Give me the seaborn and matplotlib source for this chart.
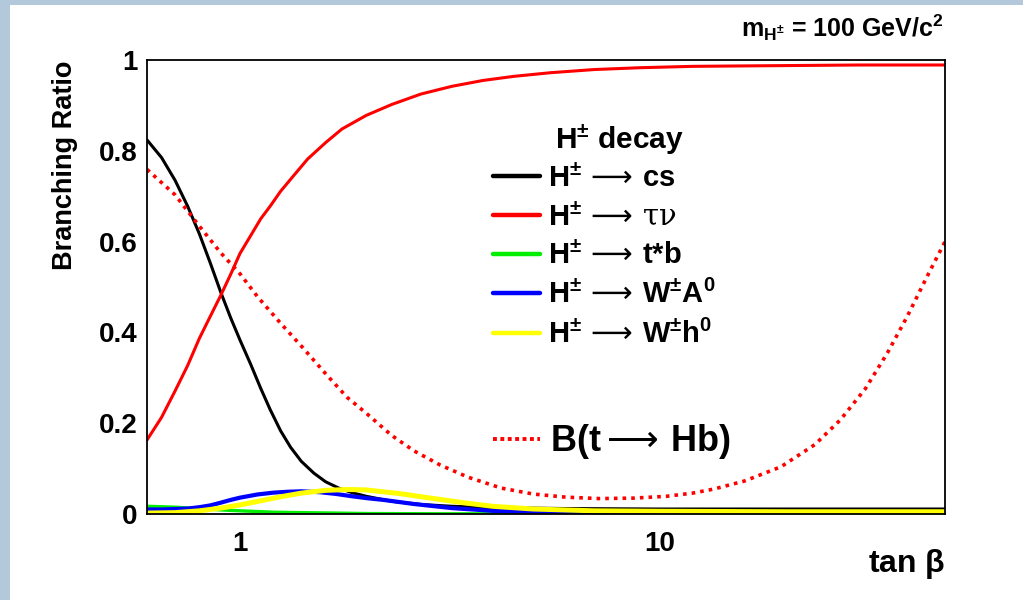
import matplotlib
matplotlib.use("Agg")
import numpy as np
import pandas as pd
import seaborn as sns
import matplotlib.pyplot as plt
from matplotlib.lines import Line2D
from matplotlib.patches import Rectangle
from matplotlib.ticker import FixedLocator, FixedFormatter, NullFormatter

# ---------------- data ----------------
tanb_cs = [0.6, 0.65, 0.7, 0.75, 0.8, 0.85, 0.9, 0.95, 1.0, 1.06, 1.12, 1.18, 1.25, 1.32,
           1.4, 1.5, 1.6, 1.72, 1.85, 2.0, 2.3, 2.7, 3.2, 4.0, 6.0, 10, 20, 48]
br_cs = [0.824, 0.785, 0.735, 0.678, 0.617, 0.552, 0.488, 0.432, 0.383, 0.330, 0.277, 0.230,
         0.183, 0.147, 0.116, 0.090, 0.071, 0.057, 0.047, 0.039, 0.028, 0.021, 0.017, 0.014,
         0.012, 0.011, 0.011, 0.011]

tanb_taunu = [0.6, 0.65, 0.7, 0.75, 0.8, 0.85, 0.9, 0.95, 1.0, 1.06, 1.12, 1.18, 1.25, 1.35,
              1.45, 1.6, 1.75, 2.0, 2.3, 2.7, 3.2, 3.8, 4.5, 5.5, 7, 9, 12, 16, 22, 30, 40, 48]
br_taunu = [0.163, 0.213, 0.271, 0.327, 0.387, 0.436, 0.482, 0.528, 0.574, 0.613, 0.650, 0.678,
            0.711, 0.748, 0.782, 0.818, 0.848, 0.878, 0.902, 0.925, 0.942, 0.955, 0.964, 0.972,
            0.979, 0.983, 0.986, 0.987, 0.988, 0.989, 0.989, 0.989]

tanb_tb = [0.6, 0.7, 0.8, 0.9, 1.0, 1.2, 1.4, 1.7, 2.0, 3.0, 48]
br_tb = [0.017, 0.015, 0.012, 0.009, 0.007, 0.004, 0.003, 0.002, 0.001, 0.0005, 0.0]

tanb_wa = [0.6, 0.65, 0.7, 0.75, 0.8, 0.85, 0.9, 0.95, 1.0, 1.1, 1.2, 1.3, 1.4, 1.55, 1.7,
           1.85, 2.0, 2.2, 2.6, 3.2, 4.0, 5.0, 7.0, 10, 20, 48]
br_wa = [0.010, 0.010, 0.011, 0.012, 0.015, 0.019, 0.025, 0.031, 0.036, 0.043, 0.047, 0.049,
         0.050, 0.048, 0.044, 0.039, 0.035, 0.031, 0.022, 0.013, 0.007, 0.004, 0.002, 0.002,
         0.001, 0.001]

tanb_wh = [0.6, 0.7, 0.8, 0.9, 1.0, 1.12, 1.25, 1.4, 1.6, 1.8, 2.0, 2.4, 2.8, 3.4, 4.0, 5.0,
           7.0, 10, 20, 48]
br_wh = [0.002, 0.003, 0.007, 0.013, 0.020, 0.029, 0.038, 0.046, 0.052, 0.054, 0.053, 0.045,
         0.036, 0.025, 0.017, 0.011, 0.007, 0.006, 0.005, 0.005]

tanb_tHb = [0.6, 0.7, 0.8, 0.9, 1.0, 1.1, 1.25, 1.4, 1.6, 1.8, 2.0, 2.3, 2.6, 3.0, 3.5, 4.2,
            5.0, 6.0, 7.2, 8.7, 10.4, 12, 13.5, 16, 19.5, 23.5, 27, 31, 35, 39, 43.5, 48]
br_tHb = [0.759, 0.703, 0.634, 0.575, 0.529, 0.479, 0.420, 0.370, 0.309, 0.257, 0.222, 0.173,
          0.139, 0.108, 0.081, 0.057, 0.044, 0.037, 0.034, 0.035, 0.039, 0.046, 0.055, 0.073,
          0.104, 0.153, 0.207, 0.276, 0.355, 0.435, 0.523, 0.600]

ARROW = r"$\,\mathsf{\longrightarrow}\,$"
channels = ["cs", "taunu", "tb", "WA", "Wh"]
channel_labels = [r"H$^{\pm}$" + ARROW + "cs",
                  r"H$^{\pm}$" + ARROW + r"$\mathtt{\tau\nu}$",
                  r"H$^{\pm}$" + ARROW + "t*b",
                  r"H$^{\pm}$" + ARROW + r"W$^{\pm}$A$^{0}$",
                  r"H$^{\pm}$" + ARROW + r"W$^{\pm}$h$^{0}$"]
channel_colors = ["#000000", "#ff0000", "#00ee00", "#0000ff", "#ffff00"]
channel_widths = [2.2, 2.2, 2.4, 3.0, 3.6]
tHb_label = r"B(t$\mathsf{\longrightarrow}\,$Hb)"

y_ticks = [0, 0.2, 0.4, 0.6, 0.8, 1.0]
y_ticklabels = ["0", "0.2", "0.4", "0.6", "0.8", "1"]
x_major = [1, 10]
x_major_labels = ["1", "10"]
x_minor = [0.7, 0.8, 0.9, 2, 3, 4, 5, 6, 7, 8, 9, 20, 30, 40]

# ---------------- style ----------------
sns.set_theme(style="white")
plt.rcParams["font.family"] = ["Liberation Sans", "DejaVu Sans"]
plt.rcParams["font.weight"] = "bold"
plt.rcParams["text.color"] = "black"
plt.rcParams["axes.labelcolor"] = "black"
plt.rcParams["xtick.color"] = "black"
plt.rcParams["ytick.color"] = "black"
plt.rcParams["mathtext.fontset"] = "custom"
plt.rcParams["mathtext.rm"] = "Liberation Sans:bold"
plt.rcParams["mathtext.it"] = "Liberation Sans:bold"
plt.rcParams["mathtext.bf"] = "Liberation Sans:bold"
plt.rcParams["mathtext.sf"] = "DejaVu Sans:normal"
plt.rcParams["mathtext.tt"] = "DejaVu Serif:normal"
plt.rcParams["mathtext.fallback"] = "stix"

FAM = ["Liberation Sans", "DejaVu Sans"]

fig = plt.figure(figsize=(10.23, 6.0), dpi=100)
fig.patch.set_facecolor("white")
fig.patches.append(Rectangle((0, 0), 10 / 1023, 1, transform=fig.transFigure,
                             facecolor="#b4c8dc", edgecolor="none", zorder=0))
fig.patches.append(Rectangle((0, 1 - 5 / 600), 1, 5 / 600, transform=fig.transFigure,
                             facecolor="#b4c8dc", edgecolor="none", zorder=0))

ax = fig.add_axes([147 / 1023, 86 / 600, 798 / 1023, 454 / 600])

series = {"cs": (tanb_cs, br_cs), "taunu": (tanb_taunu, br_taunu), "tb": (tanb_tb, br_tb),
          "WA": (tanb_wa, br_wa), "Wh": (tanb_wh, br_wh)}
frames = []
for ch in channels:
    xs, ys = series[ch]
    frames.append(pd.DataFrame({"tanb": xs, "br": ys, "channel": ch}))
df = pd.concat(frames, ignore_index=True)

for ch, col, lw in zip(channels, channel_colors, channel_widths):
    sns.lineplot(data=df[df["channel"] == ch], x="tanb", y="br", color=col, lw=lw,
                 ax=ax, legend=False, sort=False, estimator=None)

df_tHb = pd.DataFrame({"tanb": tanb_tHb, "br": br_tHb})
sns.lineplot(data=df_tHb, x="tanb", y="br", color="#ff0000", lw=2.6,
             linestyle=(0, (1.0, 1.4)), ax=ax, legend=False, sort=False, estimator=None)

ax.set_xscale("log")
ax.set_xlim(0.6, 48)
ax.set_ylim(0, 1)
ax.set_xlabel("")
ax.set_ylabel("")

ax.xaxis.set_major_locator(FixedLocator(x_major))
ax.xaxis.set_major_formatter(FixedFormatter(x_major_labels))
ax.xaxis.set_minor_locator(FixedLocator(x_minor))
ax.xaxis.set_minor_formatter(NullFormatter())
ax.yaxis.set_major_locator(FixedLocator(y_ticks))
ax.yaxis.set_major_formatter(FixedFormatter(y_ticklabels))
ax.yaxis.set_minor_locator(FixedLocator([v / 20 for v in range(1, 20) if v % 4 != 0]))

ax.tick_params(axis="both", which="both", direction="in", top=False, right=False,
               color="black", labelcolor="black")
ax.tick_params(axis="y", which="major", length=18, width=1.3, pad=7, labelsize=20)
ax.tick_params(axis="y", which="minor", length=9, width=1.3)
ax.tick_params(axis="x", which="major", length=10, width=1.3, pad=12, labelsize=20)
ax.tick_params(axis="x", which="minor", length=4.5, width=1.3)
for s in ax.spines.values():
    s.set_visible(True)
    s.set_color("black")
    s.set_linewidth(1.3)

# legends
leg_prop = {"weight": "bold", "size": 21, "family": FAM}
handles = [Line2D([], [], color=c, lw=3.2) for c in channel_colors]
leg1 = ax.legend(handles, channel_labels, loc="upper left", bbox_to_anchor=(0.4336, 0.772),
                 frameon=False, prop=leg_prop, handlelength=1.6, handletextpad=0.27,
                 labelspacing=0.35, borderpad=0, borderaxespad=0)
ax.add_artist(leg1)
ax.text(0.511, 0.825, r"H$^{\pm}$ decay", transform=ax.transAxes, ha="left", va="center",
        fontsize=21.5, fontweight="bold")

leg2 = ax.legend([Line2D([], [], color="#ff0000", lw=2.8, linestyle=(0, (1.0, 0.9)))],
                 [tHb_label], loc="upper left", bbox_to_anchor=(0.4336, 0.202),
                 frameon=False, prop={"weight": "bold", "size": 26, "family": FAM},
                 handlelength=1.3, handletextpad=0.28, borderpad=0, borderaxespad=0)

fig.text(943 / 1023, 1 - 28 / 600, r"m$_{\mathrm{H}^{\pm}}$ = 100 GeV/c$^{2}$",
         ha="right", va="center", fontsize=18, fontweight="bold")
fig.text(65 / 1023, 1 - 165 / 600, "Branching Ratio", rotation=90, ha="center",
         va="center", fontsize=19.5, fontweight="bold")
fig.text(945 / 1023, 1 - 564 / 600, r"tan $\beta$", ha="right", va="center",
         fontsize=23, fontweight="bold")

fig.savefig("out.png", dpi=100)
